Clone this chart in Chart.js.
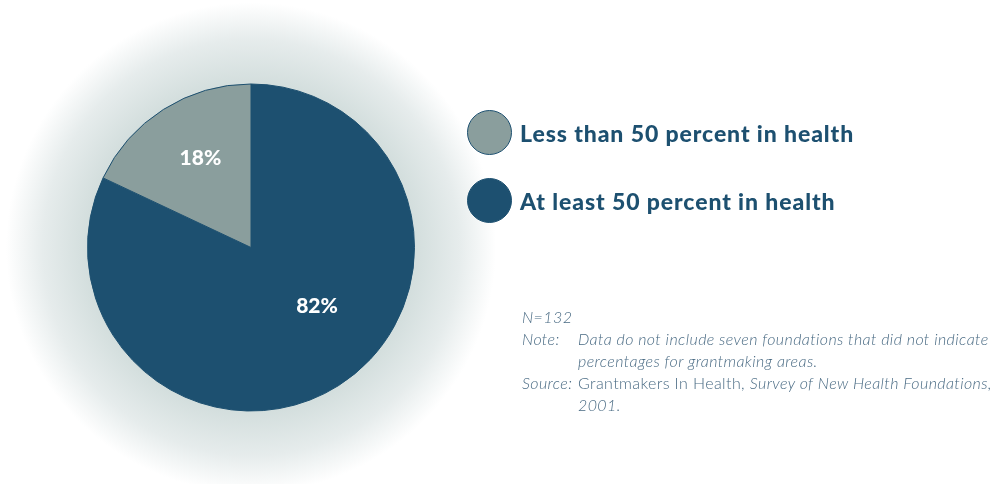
<!DOCTYPE html>
<html>
<head>
<meta charset="utf-8">
<script src="https://cdn.jsdelivr.net/npm/chart.js@4.4.0/dist/chart.umd.min.js"></script>
<style>
  html,body{margin:0;padding:0;background:#fff;}
  #wrap{position:relative;width:998px;height:484px;overflow:hidden;}
  #myChart{position:absolute;left:0;top:0;}
  .leg{position:absolute;left:467px;display:flex;align-items:center;font-family:Lato,sans-serif;font-weight:900;font-size:23px;letter-spacing:0.9px;color:#1d5070;}
  .leg span.dot{display:inline-block;width:45px;height:45px;border-radius:50%;box-sizing:border-box;margin-right:8px;}
  #notes{position:absolute;left:522px;top:306px;font-family:Lato,sans-serif;font-style:italic;font-weight:300;font-size:16px;letter-spacing:0.4px;color:#4a6b84;line-height:22px;}
  #notes .row{display:flex;}
  #notes .k{width:56px;flex:none;}
  #notes .up{font-style:normal;}
</style>
</head>
<body>
<div id="wrap">
  <canvas id="myChart" width="998" height="484"></canvas>
  <div id="legend"></div>
  <div id="notes">
    <div>N=132</div>
    <div class="row"><div class="k">Note:</div><div>Data do not include seven foundations that did not indicate<br>percentages for grantmaking areas.</div></div>
    <div class="row"><div class="k">Source:</div><div><span class="up">Grantmakers In Health, </span>Survey of New Health Foundations,<br>2001.</div></div>
  </div>
</div>
<script>
const labels=['At least 50 percent in health','Less than 50 percent in health'];
const values=[82,18];
const colors=['#1d5070','#8a9e9d'];

// legend order in the picture: gray first
const legendOrder=[1,0];
const legendTop=[110,178];
const legendDiv=document.getElementById('legend');
legendOrder.forEach((i,n)=>{
    const d=document.createElement('div');
    d.className='leg';
    d.style.top=legendTop[n]+'px';
    d.innerHTML='<span class="dot" style="background:'+colors[i]+';border:1.5px solid #1d5070"></span>'+labels[i];
    legendDiv.appendChild(d);
});

const glow={
    id:'glow',
    beforeDraw(chart){
        const c=chart.ctx;
        const a=chart.chartArea;
        const cx=(a.left+a.right)/2, cy=(a.top+a.bottom)/2;
        const g=c.createRadialGradient(cx,cy,0,cx,cy,245);
        g.addColorStop(0,'#c9d6d5');
        g.addColorStop(0.67,'#d3dedd');
        g.addColorStop(0.85,'#e6ecec');
        g.addColorStop(1,'rgba(255,255,255,1)');
        c.save();
        c.fillStyle=g;
        c.fillRect(0,0,chart.width,chart.height);
        c.restore();
    }
};

// label placement per slice: fraction of radius and angle shift (deg)
const labelPos=[{r:0.54,shift:-16},{r:0.63,shift:3}];
const pctLabels={
    id:'pctLabels',
    afterDatasetsDraw(chart){
        const c=chart.ctx;
        const meta=chart.getDatasetMeta(0);
        const total=values.reduce((s,v)=>s+v,0);
        c.save();
        c.font='900 21px Lato';
        c.fillStyle='#fff';
        c.textAlign='center';
        c.textBaseline='middle';
        meta.data.forEach((arc,i)=>{
            const mid=(arc.startAngle+arc.endAngle)/2+labelPos[i].shift*Math.PI/180;
            const rr=arc.outerRadius*labelPos[i].r;
            c.fillText(Math.round(values[i]/total*100)+'%',arc.x+Math.cos(mid)*rr,arc.y+Math.sin(mid)*rr);
        });
        c.restore();
    }
};

const ctx=document.getElementById('myChart').getContext('2d');
const chart=new Chart(ctx,{
    type:'pie',
    data:{
        labels:labels,
        datasets:[{
            data:values,
            backgroundColor:colors,
            borderColor:'#1d5070',
            borderWidth:1,
        }],
    },
    options:{
        responsive:false,
        animation:false,
        layout:{padding:{left:87,right:583,top:83,bottom:72}},
        plugins:{legend:{display:false},tooltip:{enabled:false}},
    },
    plugins:[glow,pctLabels],
});
</script>
</body>
</html>
